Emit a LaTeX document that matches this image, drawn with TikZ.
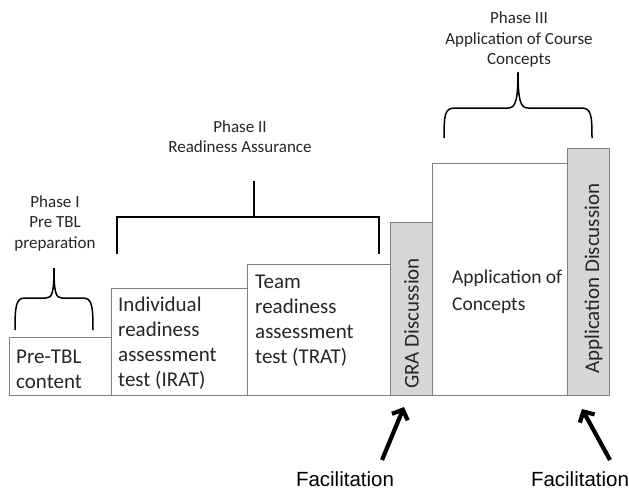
\documentclass[tikz,border=0pt]{standalone}
\usepackage{fontspec}
\setmainfont{Carlito}
\newfontfamily\facfont{Liberation Sans}
\usetikzlibrary{arrows.meta,positioning}

\tikzset{
  box/.style={rectangle, draw=black!50, line width=0.8pt, anchor=south west, inner sep=0pt, fill=white},
  discbox/.style={box, fill=black!16},
  boxtext/.style={anchor=north west, align=left, inner sep=0pt, text=black!85, font=\fontsize{21}{25}\selectfont},
  disctext/.style={anchor=west, rotate=90, inner sep=0pt, text=black!85, font=\fontsize{21}{25}\selectfont},
  phasetext/.style={align=center, inner sep=0pt, text=black!85, font=\fontsize{17}{20.5}\selectfont},
  brk/.style={draw=black, line width=1.5pt},
  factext/.style={inner sep=0pt, font=\facfont\fontsize{20.5}{24}\selectfont},
  facarrow/.style={line width=4.2pt, -{Straight Barb[length=8pt,width=17pt]}}
}

\begin{document}
\begin{tikzpicture}[x=1pt,y=-1pt]
\fill[white] (0,0) rectangle (629,491);
\useasboundingbox (0,0) rectangle (629,491);

% the steps
\node (pre) [box, minimum width=102, minimum height=58] at (9,396) {};
\node (irat) [box, minimum width=136, minimum height=107] at (111,396) {};
\node (trat) [box, minimum width=143, minimum height=131] at (247,396) {};
\node (gra) [discbox, minimum width=42, minimum height=173] at (390,396) {};
\node (apc) [box, minimum width=135, minimum height=232] at (432,396) {};
\node (apd) [discbox, minimum width=42, minimum height=247] at (567,396) {};

\node (pretxt) [boxtext] at (16,350) {Pre-TBL\\content};
\node (irattxt) [boxtext] at (118,297) {Individual\\readiness\\assessment\\test (IRAT)};
\node (trattxt) [boxtext] at (255,275) {Team\\readiness\\assessment\\test (TRAT)};
\node (apctxt) [boxtext, font=\fontsize{19.5}{27}\selectfont] at (452,270) {Application of\\Concepts};
\node (gratxt) [disctext] at (411.5,389) {GRA Discussion};
\node (apdtxt) [disctext] at (593.5,374) {Application Discussion};

% phases
\draw[brk] (15,330) .. controls (15,306) and (16,298) .. (25,298) -- (46,298)
  .. controls (52,298) and (54,293) .. (54,268)
  .. controls (54,293) and (56,298) .. (62,298) -- (83,298)
  .. controls (92,298) and (93,306) .. (93,330);
\node (ph1) [phasetext] at (55,223) {Phase I\\Pre TBL\\preparation};

\draw[brk] (117,254) -- (117,217) -- (379,217) -- (379,254);
\draw[brk] (254,217) -- (254,181);
\node (ph2) [phasetext] at (240,136.5) {Phase II\\Readiness Assurance};

\draw[brk] (444,138) .. controls (444,114) and (445,108) .. (455,108) -- (508,108)
  .. controls (515,108) and (518,102) .. (518,72)
  .. controls (518,102) and (521,108) .. (528,108) -- (581,108)
  .. controls (591,108) and (592,114) .. (592,138);
\node (ph3) [phasetext] at (519,39.5) {Phase III\\Application of Course\\Concepts};

% facilitation
\node (fac1) [factext] at (345,479.5) {Facilitation};
\node (fac2) [factext] at (580,479.5) {Facilitation};
\coordinate (gratail) at (382,460);
\coordinate (grahead) at (404,407);
\coordinate (apdtail) at (610,460);
\coordinate (apdhead) at (582,409);
\draw[facarrow] (gratail) -- (grahead);
\draw[facarrow] (apdtail) -- (apdhead);
\end{tikzpicture}
\end{document}
